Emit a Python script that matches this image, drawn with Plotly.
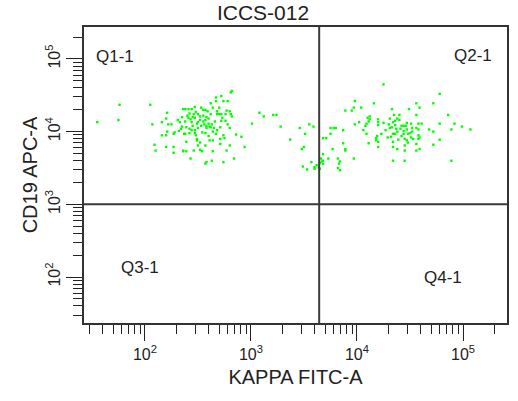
import numpy as np
import plotly.graph_objects as go

# ---- data: events as (log10 KAPPA FITC-A, log10 CD19 APC-A) ----
kappa_neg_events = [
    (1.55, 4.13), (1.76, 4.37), (1.75, 4.16), (2.05, 4.37), (2.07, 4.10), (2.21, 4.26), (2.20, 4.18),
    (2.16, 4.13), (2.22, 4.10), (2.25, 4.10), (2.31, 4.16), (2.33, 4.13), (2.36, 4.31), (2.35, 4.07),
    (2.34, 4.04), (2.32, 4.01), (2.28, 3.99), (2.27, 3.97), (2.21, 4.00), (2.16, 3.95), (2.20, 3.95),
    (2.37, 3.97), (2.09, 3.82), (2.20, 3.79), (2.27, 3.79), (2.10, 3.74), (2.27, 3.71), (2.36, 3.74),
    (2.82, 4.56), (2.81, 4.54), (2.72, 4.49), (2.67, 4.47), (2.74, 4.42), (2.78, 4.42), (2.62, 4.39),
    (2.67, 4.42), (2.47, 4.34), (2.53, 4.33), (2.38, 4.31), (2.41, 4.31), (2.44, 4.31), (2.57, 4.30),
    (2.59, 4.28), (2.68, 4.28), (2.68, 4.24), (2.70, 4.24), (2.72, 4.24), (2.77, 4.29), (2.80, 4.28),
    (2.81, 4.24), (2.82, 4.21), (2.76, 4.24), (2.42, 4.25), (2.46, 4.24), (2.50, 4.24), (2.55, 4.22),
    (2.58, 4.20), (2.41, 4.19), (2.47, 4.19), (2.52, 4.16), (2.57, 4.16), (2.38, 4.14), (2.44, 4.13),
    (2.49, 4.11), (2.72, 4.15), (2.76, 4.15), (2.60, 4.11), (2.63, 4.10), (2.61, 4.07), (2.56, 4.10),
    (2.58, 4.08), (2.39, 4.06), (2.42, 4.04), (2.47, 4.02), (2.50, 4.05), (2.65, 4.05), (2.71, 4.06),
    (2.80, 4.05), (2.54, 3.99), (2.57, 3.98), (2.64, 4.00), (2.67, 3.97), (2.38, 3.97), (2.42, 3.98),
    (2.47, 3.98), (2.74, 3.95), (2.86, 3.96), (2.49, 3.90), (2.49, 3.88), (2.61, 3.88), (2.64, 3.88),
    (2.71, 3.90), (2.75, 3.91), (2.91, 3.93), (2.39, 3.86), (2.71, 3.83), (2.57, 3.81), (2.50, 3.81),
    (2.80, 3.81), (2.94, 3.79), (2.36, 3.73), (2.39, 3.73), (2.46, 3.74), (2.52, 3.75), (2.54, 3.73),
    (2.64, 3.73), (2.77, 3.74), (2.43, 3.63), (2.58, 3.58), (2.57, 3.56), (2.63, 3.60), (2.74, 3.58),
    (2.84, 3.63), (2.45, 4.20), (2.48, 4.27), (2.52, 4.21), (2.55, 4.14), (2.60, 4.18), (2.53, 4.08),
    (2.45, 4.08), (2.40, 4.22), (2.62, 4.24), (2.66, 4.14), (2.58, 4.05), (2.50, 4.13), (2.43, 4.17),
    (2.55, 4.30), (2.64, 4.33), (2.70, 4.33), (2.48, 3.95), (2.60, 3.94), (2.35, 4.20), (2.52, 3.85),
    (2.68, 4.02), (2.73, 4.19), (2.78, 4.10), (2.44, 4.02), (2.62, 4.06),
]

kappa_mid_events = [
    (3.01, 4.11), (3.08, 4.26), (3.12, 4.21), (3.21, 4.23), (3.24, 4.23), (3.28, 4.07), (3.37, 3.89),
    (3.46, 4.05), (3.51, 3.97), (3.55, 4.10), (3.59, 4.07), (3.48, 3.76), (3.50, 3.79), (3.68, 3.91),
    (3.71, 3.91), (3.75, 4.05), (3.78, 4.05), (3.80, 4.05), (3.75, 3.97), (3.87, 4.02), (3.87, 3.84),
    (3.77, 3.76), (3.68, 3.69), (3.66, 3.63), (3.67, 3.59), (3.68, 3.60), (3.65, 3.57), (3.68, 3.56),
    (3.62, 3.54), (3.60, 3.51), (3.60, 3.49), (3.65, 3.49), (3.64, 3.51), (3.57, 3.58), (3.49, 3.52),
    (3.53, 3.48), (3.73, 3.63), (3.82, 3.63), (3.84, 3.59), (3.83, 3.56), (3.82, 3.50), (3.84, 3.47),
]

kappa_pos_events = [
    (4.25, 4.65), (3.98, 4.42), (3.97, 4.33), (3.95, 4.29), (3.89, 4.29), (4.04, 4.33), (4.16, 4.39),
    (4.33, 4.31), (4.49, 4.31), (4.35, 4.23), (4.40, 4.23), (4.38, 4.18), (4.31, 4.18), (4.12, 4.17),
    (4.11, 4.14), (4.09, 4.11), (4.08, 4.08), (4.02, 4.13), (3.98, 4.10), (4.20, 4.17), (4.20, 4.13),
    (4.20, 4.09), (4.34, 4.13), (4.36, 4.09), (4.33, 4.06), (4.31, 4.05), (4.37, 4.04), (4.42, 4.08),
    (4.44, 4.08), (4.46, 4.08), (4.41, 4.04), (4.44, 4.01), (4.09, 3.97), (4.19, 3.94), (4.18, 3.91),
    (4.23, 3.97), (4.34, 3.97), (4.36, 3.97), (4.29, 3.92), (4.44, 3.97), (4.45, 3.90), (4.48, 3.97),
    (4.34, 3.86), (4.39, 3.89), (3.89, 3.76), (3.89, 3.74), (4.11, 3.84), (4.20, 3.86), (4.20, 3.79),
    (4.34, 3.79), (4.38, 3.76), (4.45, 3.81), (4.45, 3.74), (3.97, 3.63), (4.34, 3.60), (4.45, 3.60),
    (4.78, 4.52), (4.56, 4.39), (4.72, 4.39), (4.59, 4.33), (4.56, 4.23), (4.86, 4.23), (4.51, 4.11),
    (4.58, 4.11), (4.61, 4.11), (4.78, 4.11), (4.92, 4.11), (4.99, 4.07), (5.07, 4.03), (4.47, 4.03),
    (4.52, 4.05), (4.52, 4.00), (4.56, 4.05), (4.58, 4.03), (4.68, 4.03), (4.72, 4.00), (4.89, 4.03),
    (4.58, 3.95), (4.59, 3.92), (4.58, 3.90), (4.51, 3.92), (4.53, 3.90), (4.47, 3.88), (4.48, 3.85),
    (4.78, 3.89), (4.56, 3.83), (4.59, 3.76), (4.56, 3.74), (4.72, 3.82), (4.89, 3.60), (4.06, 4.02),
    (4.18, 3.88), (4.10, 4.19), (4.12, 4.21), (4.30, 4.10), (4.38, 4.00), (4.42, 3.94), (4.27, 4.02),
    (4.47, 4.12), (4.25, 4.12), (4.40, 4.16), (4.32, 3.93), (4.50, 3.98), (4.36, 4.15),
]

quad_gate_kappa = 4400      # vertical quadrant line (KAPPA FITC-A)
quad_gate_cd19 = 1000       # horizontal quadrant line (CD19 APC-A)
quad_labels = ["Q1-1", "Q2-1", "Q3-1", "Q4-1"]
major_ticks = [100, 1000, 10000, 100000]
major_text = ["10<sup>2</sup>", "10<sup>3</sup>", "10<sup>4</sup>", "10<sup>5</sup>"]

x_range_log = [1.425, 5.415]
y_range_log = [1.367, 5.44]

# ---- build ----
events = kappa_neg_events + kappa_mid_events + kappa_pos_events
kappa = [10 ** e[0] for e in events]
cd19 = [10 ** e[1] for e in events]

minor_ticks = [m * 10 ** d for d in range(1, 6) for m in range(2, 10)]

fig = go.Figure()
fig.add_trace(go.Scatter(
    x=kappa, y=cd19, mode="markers",
    marker=dict(symbol="square", size=2.4, color="#00ff00", line=dict(width=0)),
    hoverinfo="skip", showlegend=False,
))
# quadrant gate lines
xlo, xhi = 10 ** x_range_log[0], 10 ** x_range_log[1]
ylo, yhi = 10 ** y_range_log[0], 10 ** y_range_log[1]
fig.add_trace(go.Scatter(x=[quad_gate_kappa, quad_gate_kappa], y=[ylo, yhi], mode="lines",
                         line=dict(color="#3a3a3a", width=2), hoverinfo="skip", showlegend=False))
fig.add_trace(go.Scatter(x=[xlo, xhi], y=[quad_gate_cd19, quad_gate_cd19], mode="lines",
                         line=dict(color="#3a3a3a", width=2), hoverinfo="skip", showlegend=False))

FONT = "Liberation Sans, Arial, sans-serif"
axis_common = dict(
    type="log", showgrid=False, zeroline=False, automargin=False,
    showline=True, linecolor="#333333", linewidth=2, mirror=True,
    ticks="outside", ticklen=16, tickwidth=1, tickcolor="#222222",
    tickmode="array", tickvals=major_ticks, ticktext=major_text,
    tickfont=dict(family=FONT, size=16, color="#222222"),
    minor=dict(tickmode="array", tickvals=minor_ticks, ticks="outside",
               ticklen=9, tickwidth=1, tickcolor="#222222", showgrid=False),
)

fig.update_layout(
    width=518, height=401,
    margin=dict(l=84, r=11, t=27, b=78, autoexpand=False),
    paper_bgcolor="white", plot_bgcolor="white",
    font=dict(family=FONT, color="#222222"),
    title=dict(text="ICCS-012", x=263 / 518, xref="container", xanchor="center",
               y=1 - 13 / 401, yref="container", yanchor="middle", automargin=False,
               font=dict(family=FONT, size=21, color="#222222")),
    xaxis=dict(axis_common, range=x_range_log,
               title=dict(text="KAPPA FITC-A", standoff=8,
                          font=dict(family=FONT, size=20, color="#222222"))),
    yaxis=dict(axis_common, range=y_range_log, tickangle=-90,
               title=dict(text="CD19 APC-A", standoff=0,
                          font=dict(family=FONT, size=20, color="#222222"))),
)

label_pos = [(0.073, 0.902), (0.919, 0.905), (0.132, 0.186), (0.849, 0.155)]
for txt, (px, py) in zip(quad_labels, label_pos):
    fig.add_annotation(text=txt, x=px, y=py, xref="paper", yref="paper",
                       showarrow=False, xanchor="center", yanchor="middle",
                       font=dict(family=FONT, size=17, color="#222222"))

fig.write_html(
    "out.html",
    config={"displayModeBar": False},
    post_script="document.body.style.margin='0';document.body.style.overflow='hidden';",
)
